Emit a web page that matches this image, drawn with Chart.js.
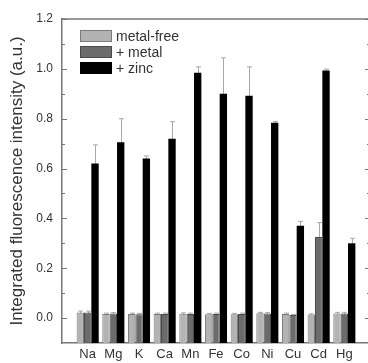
<!DOCTYPE html>
<html><head><meta charset="utf-8">
<script src="https://cdn.jsdelivr.net/npm/chart.js@4"></script>
<style>
html,body{margin:0;padding:0;overflow:hidden;background:#fff;width:368px;height:363px}
#wrap{position:relative;width:380px;height:363px}
</style></head>
<body><div id="wrap"><canvas id="c" width="380" height="363"></canvas></div>
<script>
const categories = ['Na','Mg','K','Ca','Mn','Fe','Co','Ni','Cu','Cd','Hg'];
const seriesNames = ['metal-free','+ metal','+ zinc'];
const metalFree    = [0.022,0.016,0.016,0.016,0.017,0.015,0.015,0.019,0.016,0.014,0.018];
const metalFreeErr = [0.006,0.004,0.004,0.004,0.004,0.004,0.004,0.004,0.004,0.003,0.005];
const plusMetal    = [0.022,0.018,0.015,0.016,0.016,0.016,0.016,0.018,0.012,0.325,0.018];
const plusMetalErr = [0.006,0.004,0.004,0.004,0.004,0.004,0.004,0.004,0.003,0.058,0.005];
const plusZinc     = [0.620,0.705,0.640,0.720,0.984,0.900,0.892,0.784,0.370,0.993,0.300];
const plusZincErr  = [0.075,0.095,0.010,0.068,0.024,0.144,0.116,0.005,0.018,0.006,0.020];
const yMajorTicks = [0.0,0.2,0.4,0.6,0.8,1.0,1.2];
const yMinorTicks = [0.1,0.3,0.5,0.7,0.9,1.1];
const yMin = -0.1, yMax = 1.2;

const fills   = ['#b3b3b3','#6b6b6b','#000000'];
const borders = ['#7a7a7a','#4a4a4a','#000000'];
const errColor = '#a8a8a8';
const axisColor = '#777777';
const textColor = '#333333';

const labels = [''].concat(categories, ['']);
const pad = a => [null].concat(a, [null]);
const errs = [metalFreeErr, plusMetalErr, plusZincErr];

const extras = {
  id: 'extras',
  beforeDatasetsDraw(chart) {
    const ctx = chart.ctx, y = chart.scales.y;
    ctx.save();
    ctx.strokeStyle = errColor; ctx.lineWidth = 1;
    chart.data.datasets.forEach((ds, di) => {
      const meta = chart.getDatasetMeta(di);
      meta.data.forEach((bar, i) => {
        const v = ds.data[i]; if (v == null) return;
        const e = errs[di][i-1];
        const x = Math.round(bar.x) + 0.5;
        const yt = y.getPixelForValue(v + e), yb = y.getPixelForValue(v - e);
        ctx.beginPath();
        ctx.moveTo(x, yb); ctx.lineTo(x, yt);
        ctx.moveTo(x - 2.5, yt); ctx.lineTo(x + 2.5, yt);
        ctx.stroke();
      });
    });
    ctx.restore();
  },
  afterDraw(chart) {
    const ctx = chart.ctx, a = chart.chartArea, y = chart.scales.y;
    ctx.save();
    ctx.strokeStyle = axisColor; ctx.lineWidth = 1.5;
    ctx.beginPath();
    ctx.moveTo(a.left, a.top); ctx.lineTo(a.right, a.top);
    ctx.moveTo(a.right, a.top); ctx.lineTo(a.right, a.bottom);
    ctx.stroke();
    ctx.lineWidth = 1.2;
    const tick = (v, len) => {
      const py = Math.round(y.getPixelForValue(v)) + 0.5;
      ctx.beginPath();
      ctx.moveTo(a.left, py); ctx.lineTo(a.left + len, py);
      ctx.moveTo(a.right, py); ctx.lineTo(a.right - len, py);
      ctx.stroke();
    };
    yMajorTicks.forEach(v => tick(v, 5));
    yMinorTicks.forEach(v => tick(v, 3));
    // legend
    const lx = 80, rows = [36, 52, 68];
    ctx.font = '14px "Liberation Sans", Arial, sans-serif';
    ctx.textBaseline = 'middle';
    chart.data.datasets.forEach((ds, di) => {
      const cy = rows[di];
      ctx.fillStyle = ds.backgroundColor;
      ctx.fillRect(lx, cy - 6, 32, 12);
      ctx.strokeStyle = ds.borderColor; ctx.lineWidth = 1;
      ctx.strokeRect(lx + 0.5, cy - 5.5, 31, 11);
      ctx.fillStyle = textColor;
      ctx.fillText(ds.label, lx + 36, cy + 1);
    });
    ctx.restore();
  }
};

const mk = (k, data) => ({
  label: seriesNames[k], data: pad(data), base: yMin,
  backgroundColor: fills[k], borderColor: borders[k], borderWidth: k === 2 ? 0 : 1,
  categoryPercentage: 0.86, barPercentage: 1.0
});

new Chart(document.getElementById('c'), {
  type: 'bar',
  data: { labels, datasets: [mk(0, metalFree), mk(1, plusMetal), mk(2, plusZinc)] },
  options: {
    responsive: false, animation: false, devicePixelRatio: 1,
    layout: { padding: { left: 0, top: 19, right: 10, bottom: 0 } },
    plugins: { legend: { display: false }, tooltip: { enabled: false } },
    scales: {
      x: {
        type: 'category', offset: false,
        grid: { display: false, drawTicks: false },
        border: { color: axisColor, width: 1.5 },
        ticks: { autoSkip: false, maxRotation: 0, color: textColor, padding: 4,
          font: { family: '"Liberation Sans", Arial, sans-serif', size: 13 } },
        afterFit: s => { s.height = 20; }
      },
      y: {
        min: yMin, max: yMax,
        grid: { display: false, drawTicks: false },
        border: { color: axisColor, width: 1.5 },
        afterBuildTicks: s => { s.ticks = yMajorTicks.map(v => ({ value: v })); },
        ticks: { color: textColor, padding: 9,
          font: { family: '"Liberation Sans", Arial, sans-serif', size: 12 },
          callback: v => Number(v).toFixed(1) },
        title: { display: true, text: 'Integrated fluorescence intensity (a.u.)',
          color: textColor, padding: { top: 7, bottom: 0 },
          font: { family: '"Liberation Sans", Arial, sans-serif', size: 17 } },
        afterFit: s => { s.width = 62; }
      }
    }
  },
  plugins: [extras]
});
</script></body></html>
